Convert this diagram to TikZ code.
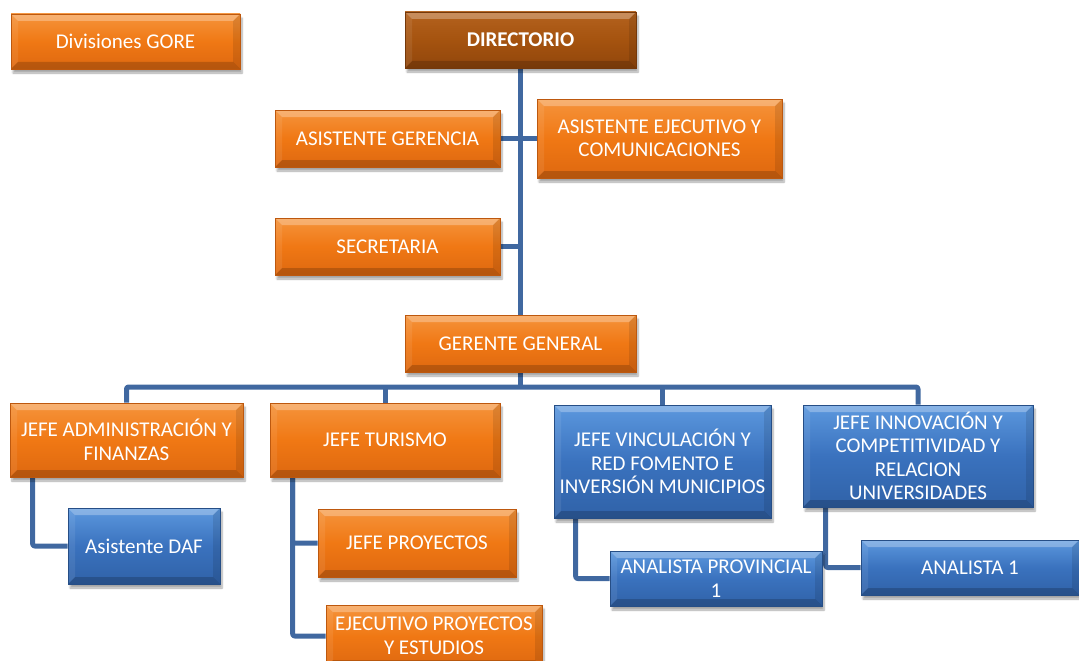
\documentclass[tikz,border=0pt]{standalone}
\usepackage{fontspec}
\setmainfont{Carlito}
\usetikzlibrary{shadows.blur,backgrounds,calc}
\definecolor{org}{RGB}{240,120,20}
\definecolor{orgL}{RGB}{245,148,60}
\definecolor{orgD}{RGB}{222,104,16}
\definecolor{blu}{RGB}{58,114,190}
\definecolor{bluL}{RGB}{92,152,222}
\definecolor{bluD}{RGB}{48,98,168}
\definecolor{brn}{RGB}{165,83,15}
\definecolor{brnL}{RGB}{180,98,30}
\definecolor{brnD}{RGB}{145,70,12}
\definecolor{lnk}{RGB}{64,104,160}
\tikzset{
 bevel/.style={path picture={
   \fill[white,opacity=0.28] (path picture bounding box.north west) -- (path picture bounding box.north east)
     -- ([xshift=-7pt,yshift=-7pt]path picture bounding box.north east) -- ([xshift=7pt,yshift=-7pt]path picture bounding box.north west) -- cycle;
   \fill[black,opacity=0.18] (path picture bounding box.south west) -- (path picture bounding box.south east)
     -- ([xshift=-7pt,yshift=7pt]path picture bounding box.south east) -- ([xshift=7pt,yshift=7pt]path picture bounding box.south west) -- cycle;
   \fill[black,opacity=0.10] (path picture bounding box.north east) -- (path picture bounding box.south east)
     -- ([xshift=-7pt,yshift=7pt]path picture bounding box.south east) -- ([xshift=-7pt,yshift=-7pt]path picture bounding box.north east) -- cycle;
   \fill[white,opacity=0.08] (path picture bounding box.north west) -- (path picture bounding box.south west)
     -- ([xshift=7pt,yshift=7pt]path picture bounding box.south west) -- ([xshift=7pt,yshift=-7pt]path picture bounding box.north west) -- cycle;
 }},
 box/.style={bevel, text=white, font=\fontsize{21}{23.5}\selectfont, align=center, inner sep=2pt,
   blur shadow={shadow xshift=2pt, shadow yshift=-4pt, shadow opacity=35, shadow blur steps=6}},
 obox/.style={box, top color=orgL, bottom color=orgD, middle color=org, draw=orgD!85!black, line width=0.6pt},
 bbox/.style={box, top color=bluL, bottom color=bluD, middle color=blu, draw=bluD!80!black, line width=0.6pt},
 dbox/.style={box, top color=brnL, bottom color=brnD, middle color=brn, draw=brnD!80!black, line width=0.6pt, font=\fontsize{21}{23.5}\selectfont\bfseries},
 link/.style={draw=lnk, line width=5pt, rounded corners=2pt, line join=round},
}
\begin{document}
\begin{tikzpicture}[x=1pt,y=-1pt]
\useasboundingbox (0,0) rectangle (1079,661);
% top
\node[obox, minimum width=229pt, minimum height=55pt] (gore) at (125.5,41.5) {Divisiones GORE};
\node[dbox, minimum width=231pt, minimum height=56pt] (dir) at (520.5,40) {DIRECTORIO};
\node[obox, minimum width=225pt, minimum height=57pt] (asg) at (387.5,138.5) {ASISTENTE GERENCIA};
\node[obox, minimum width=245pt, minimum height=79pt] (aseje) at (659.5,138.5) {ASISTENTE EJECUTIVO Y\\COMUNICACIONES};
\node[obox, minimum width=225pt, minimum height=57pt] (sec) at (387.5,246.5) {SECRETARIA};
\node[obox, minimum width=231pt, minimum height=57pt] (ger) at (520.5,343.5) {GERENTE GENERAL};
% second level
\node[obox, minimum width=233pt, minimum height=74pt] (jad) at (126.5,440) {JEFE ADMINISTRACIÓN Y\\FINANZAS};
\node[obox, minimum width=230pt, minimum height=74pt] (jtur) at (385,440) {JEFE TURISMO};
\node[bbox, minimum width=217pt, minimum height=113pt] (jvin) at (662.5,461.5) {JEFE VINCULACIÓN Y\\RED FOMENTO E\\INVERSIÓN MUNICIPIOS};
\node[bbox, minimum width=230pt, minimum height=102pt] (jinn) at (918,456) {JEFE INNOVACIÓN Y\\COMPETITIVIDAD Y\\RELACION\\UNIVERSIDADES};
% third level
\node[bbox, minimum width=152pt, minimum height=76pt] (daf) at (144,546) {Asistente DAF};
\node[obox, minimum width=198pt, minimum height=68pt] (jpro) at (417,543) {JEFE PROYECTOS};
\node[obox, minimum width=216pt, minimum height=62pt] (ejec) at (434,636) {EJECUTIVO PROYECTOS\\Y ESTUDIOS};
\node[bbox, minimum width=212pt, minimum height=55pt] (aprov) at (716,578.5) {ANALISTA PROVINCIAL\\1};
\node[bbox, minimum width=218pt, minimum height=55pt] (an1) at (970,567.5) {ANALISTA 1};
\coordinate (bus) at (0,387);
\begin{scope}[on background layer]
\draw[link] (dir.south) -- (ger.north);
\draw[link] (asg.east) -- (asg.east -| dir.south);
\draw[link] (aseje.west) -- (aseje.west -| dir.south);
\draw[link] (sec.east) -- (sec.east -| dir.south);
\draw[link] (ger.south) -- (ger.south |- bus);
\draw[link] (jad.north) -- (jad.north |- bus) -- (jinn.north |- bus) -- (jinn.north);
\draw[link] (jtur.north) -- (jtur.north |- bus);
\draw[link] (jvin.north) -- (jvin.north |- bus);
\draw[link] ([xshift=23pt]jad.south west) |- (daf.west);
\draw[link] ([xshift=23pt]jtur.south west) |- (jpro.west);
\draw[link] ([xshift=23pt]jtur.south west) |- (ejec.west);
\draw[link] ([xshift=22pt]jvin.south west) |- (aprov.west);
\draw[link] ([xshift=23pt]jinn.south west) |- (an1.west);
\end{scope}
\end{tikzpicture}
\end{document}
